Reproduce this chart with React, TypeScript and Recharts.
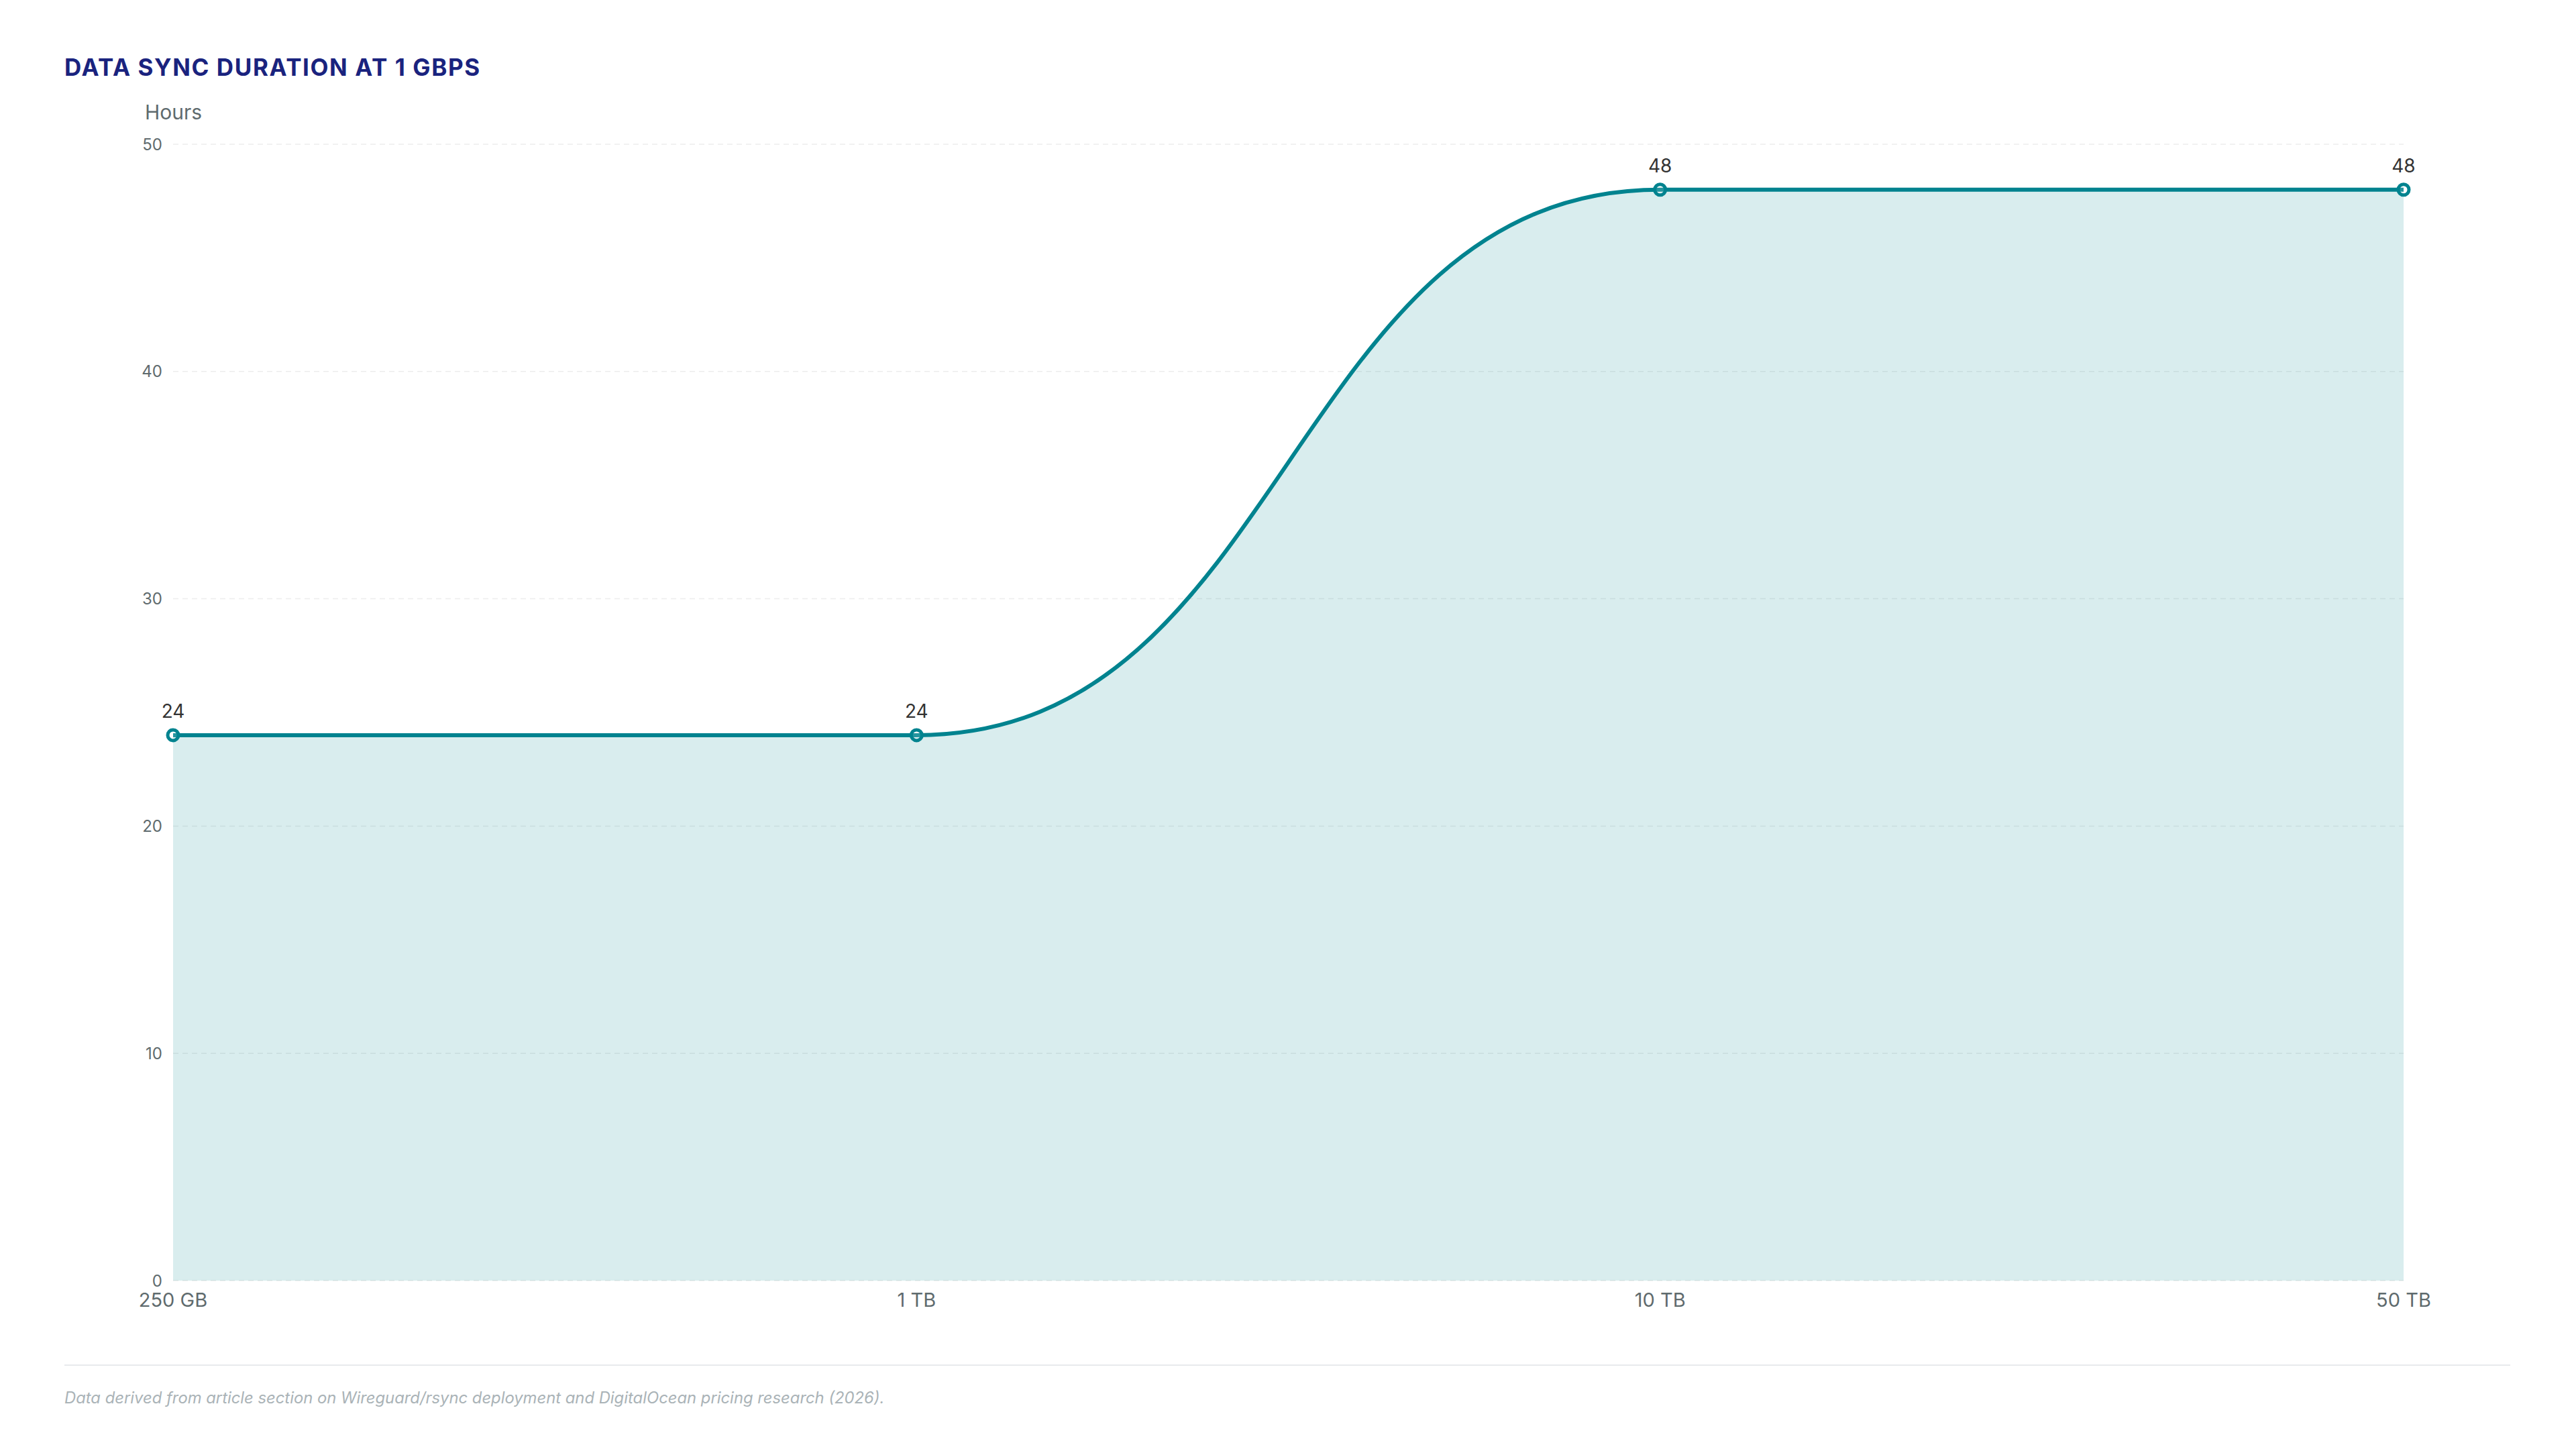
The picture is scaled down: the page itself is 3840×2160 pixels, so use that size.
import { AreaChart, Area, XAxis, YAxis, CartesianGrid, LabelList } from 'recharts';

const sizes = ['250 GB', '1 TB', '10 TB', '50 TB'];
const hours = [24, 24, 48, 48];
const yTicks = [0, 10, 20, 30, 40, 50];

const TEAL = '#00838f';
const TICK = '#5f6b6e';

export default function App() {
    const data = sizes.map((size, i) => ({ size, hours: hours[i] }));

    return (
        <div
            style={{
                position: 'absolute',
                left: 0,
                top: 0,
                width: 3840,
                height: 2160,
                background: '#fff',
                fontFamily: 'Inter, sans-serif',
                overflow: 'hidden',
            }}
        >
            <div
                style={{
                    position: 'absolute',
                    left: 96,
                    top: 83,
                    fontSize: 35,
                    lineHeight: '35px',
                    fontWeight: 700,
                    color: '#1a237e',
                    letterSpacing: 1.6,
                }}
            >
                DATA SYNC DURATION AT 1 GBPS
            </div>
            <div
                style={{
                    position: 'absolute',
                    left: 216,
                    top: 152,
                    fontSize: 30,
                    lineHeight: '30px',
                    color: TICK,
                }}
            >
                Hours
            </div>

            <div style={{ position: 'absolute', left: 0, top: 0 }}>
                <AreaChart
                    width={3840}
                    height={2000}
                    data={data}
                    margin={{ top: 215, right: 257, left: 198, bottom: 31 }}
                >
                    <CartesianGrid vertical={false} stroke="#ededed" strokeWidth={1.5} strokeDasharray="8 6" />
                    <XAxis
                        dataKey="size"
                        height={60}
                        axisLine={false}
                        tickLine={false}
                        tickSize={0}
                        tickMargin={18}
                        interval={0}
                        tick={{ fontSize: 29, fill: TICK }}
                    />
                    <YAxis
                        width={60}
                        domain={[0, 50]}
                        ticks={yTicks}
                        axisLine={false}
                        tickLine={false}
                        tickSize={0}
                        tickMargin={16}
                        tick={{ fontSize: 24, fill: TICK }}
                    />
                    <Area
                        type="bumpX"
                        dataKey="hours"
                        stroke={TEAL}
                        strokeWidth={6}
                        fill={TEAL}
                        fillOpacity={0.15}
                        dot={{ r: 8, fill: '#fff', stroke: TEAL, strokeWidth: 5 }}
                        activeDot={false}
                        isAnimationActive={false}
                    >
                        <LabelList dataKey="hours" position="top" offset={26} fill="#333" fontSize={28} />
                    </Area>
                </AreaChart>
            </div>

            <div
                style={{
                    position: 'absolute',
                    left: 96,
                    top: 2034,
                    width: 3646,
                    height: 2,
                    background: '#e8eaed',
                }}
            />
            <div
                style={{
                    position: 'absolute',
                    left: 96,
                    top: 2072,
                    fontSize: 23.8,
                    lineHeight: '24px',
                    fontStyle: 'italic',
                    color: '#aab3b7',
                }}
            >
                Data derived from article section on Wireguard/rsync deployment and DigitalOcean pricing research (2026).
            </div>
        </div>
    );
}
